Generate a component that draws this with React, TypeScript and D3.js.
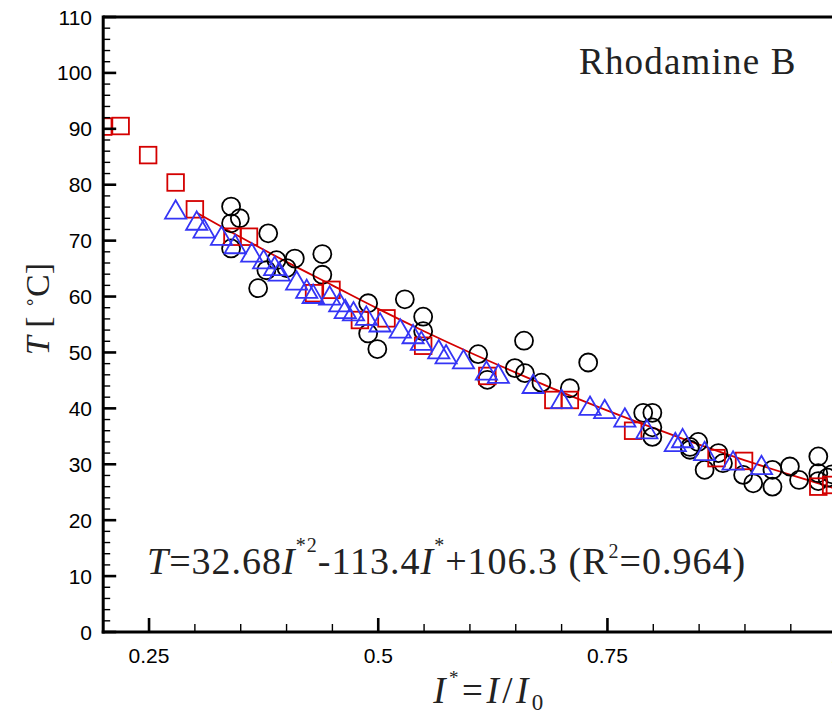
import React from "react";
import * as d3 from "d3";

// ---- data ----
const circlesI = [0.3395, 0.349, 0.3395, 0.3395, 0.38, 0.389, 0.409, 0.4, 0.378, 0.369, 0.439, 0.439, 0.489, 0.489, 0.499, 0.529, 0.549, 0.549, 0.609, 0.619, 0.659, 0.649, 0.66, 0.678, 0.729, 0.709, 0.789, 0.799, 0.799, 0.799, 0.84, 0.849, 0.84, 0.856, 0.871, 0.876, 0.898, 0.909, 0.93, 0.93, 0.949, 0.959, 0.98, 0.98, 0.98, 0.99, 0.995];
const circlesT = [76.1, 74.0, 73.1, 68.6, 71.3, 66.5, 66.8, 65.1, 64.7, 61.5, 67.6, 63.9, 58.8, 53.4, 50.6, 59.5, 56.4, 53.8, 49.7, 45.1, 52.1, 47.2, 46.3, 44.6, 48.2, 43.6, 39.2, 39.2, 36.6, 34.9, 33.1, 34.0, 32.6, 29.0, 32.0, 30.2, 28.1, 26.6, 26.0, 29.0, 29.6, 27.2, 31.4, 28.4, 27.0, 27.6, 28.2];

const squaresI = [0.2, 0.219, 0.249, 0.279, 0.3, 0.341, 0.359, 0.43, 0.449, 0.48, 0.509, 0.549, 0.619, 0.691, 0.709, 0.778, 0.869, 0.899, 0.98, 0.994];
const squaresT = [90.4, 90.5, 85.3, 80.4, 75.6, 70.7, 70.7, 60.6, 61.2, 55.8, 56.1, 51.2, 45.8, 41.5, 41.5, 36.0, 31.1, 30.6, 26.0, 26.3];

const trianglesI = [0.279, 0.302, 0.31, 0.329, 0.344, 0.362, 0.375, 0.387, 0.392, 0.411, 0.422, 0.429, 0.447, 0.458, 0.464, 0.473, 0.487, 0.502, 0.524, 0.538, 0.547, 0.566, 0.574, 0.593, 0.618, 0.631, 0.669, 0.7, 0.731, 0.747, 0.769, 0.793, 0.824, 0.832, 0.856, 0.887, 0.918];
const trianglesT = [75.4, 73.4, 72.0, 70.7, 69.2, 67.7, 66.5, 65.3, 64.3, 62.7, 61.2, 60.3, 60.0, 58.8, 57.6, 57.2, 56.4, 55.2, 54.1, 53.1, 51.9, 50.4, 49.5, 48.6, 46.6, 46.0, 44.2, 41.5, 40.3, 39.7, 38.2, 36.1, 33.8, 34.5, 32.2, 30.5, 29.7];

const fitI = [0.302, 0.35, 0.4, 0.45, 0.5, 0.55, 0.6, 0.65, 0.7, 0.75, 0.8, 0.85, 0.9, 0.95, 1.0, 1.05];
const fitT = [75.0, 70.6, 66.2, 62.0, 57.8, 53.8, 50.0, 46.4, 42.9, 39.6, 36.5, 33.5, 30.7, 28.1, 25.6, 23.2];

const xMajorTicks = [0.25, 0.5, 0.75, 1.0];
const xTickLabels = ["0.25", "0.5", "0.75", "1"];
const yMajorTicks = [0, 10, 20, 30, 40, 50, 60, 70, 80, 90, 100, 110];

const W = 832;
const H = 716;
const left = 103.2;
const top = 17;
const bottom = 632;
const pxPerUnit = 916.8;
const xMin = 0.2;
const xMax = 1.05;

export default function App() {
  const x = d3.scaleLinear().domain([xMin, xMax]).range([left, left + (xMax - xMin) * pxPerUnit]);
  const y = d3.scaleLinear().domain([0, 110]).range([bottom, top]);

  const xMinor = d3.range(0.2, 1.0501, 0.05).filter((v) => xMajorTicks.every((m) => Math.abs(m - v) > 1e-6));
  const yMinor = d3.range(0, 110.01, 2).filter((v) => v % 10 !== 0);

  const line = d3
    .line<number>()
    .x((_, i) => x(fitI[i]))
    .y((d) => y(d))
    .curve(d3.curveMonotoneX);

  const triPath = d3.symbol().type(d3.symbolTriangle).size(195)() as string;

  const serif = "'Liberation Serif', 'Times New Roman', serif";
  const sans = "'Liberation Sans', Arial, sans-serif";
  const red = "#d40000";
  const blue = "#3535f5";

  return (
    <svg width={W} height={H} style={{ position: "absolute", left: 0, top: 0, background: "#fff" }}>
      <defs>
        <clipPath id="plotClip">
          <rect x={left} y={top} width={W - left} height={bottom - top} />
        </clipPath>
      </defs>
      <rect x={0} y={0} width={W} height={H} fill="#fff" />

      <g clipPath="url(#plotClip)">
        <path d={line(fitT) as string} fill="none" stroke={red} strokeWidth={1.8} />
        {circlesI.map((v, i) => (
          <circle key={"c" + i} cx={x(v)} cy={y(circlesT[i])} r={9} fill="none" stroke="#000" strokeWidth={1.8} />
        ))}
        {squaresI.map((v, i) => (
          <rect key={"s" + i} x={x(v) - 8.3} y={y(squaresT[i]) - 8.3} width={16.6} height={16.6} fill="none" stroke={red} strokeWidth={1.8} />
        ))}
        {trianglesI.map((v, i) => (
          <path key={"t" + i} d={triPath} transform={`translate(${x(v)},${y(trianglesT[i]) + 2})`} fill="none" stroke={blue} strokeWidth={1.8} />
        ))}
      </g>

      {/* frame */}
      <line x1={left} x2={W} y1={top} y2={top} stroke="#000" strokeWidth={3} />
      <line x1={left} x2={left} y1={top - 1.5} y2={bottom + 1.5} stroke="#000" strokeWidth={3} />
      <line x1={left - 1.5} x2={W} y1={bottom} y2={bottom} stroke="#000" strokeWidth={3} />

      {/* y ticks */}
      {yMajorTicks.map((t) => (
        <g key={"ym" + t}>
          <line x1={left} x2={left + 13} y1={y(t)} y2={y(t)} stroke="#000" strokeWidth={2.6} />
          <text x={92} y={y(t)} dy="0.36em" textAnchor="end" fontFamily={sans} fontSize={21} fill="#000">
            {t}
          </text>
        </g>
      ))}
      {yMinor.map((t) => (
        <line key={"yn" + t} x1={left} x2={left + 7} y1={y(t)} y2={y(t)} stroke="#000" strokeWidth={1.4} />
      ))}

      {/* x ticks */}
      {xMajorTicks.map((t, i) => (
        <g key={"xm" + t}>
          <line x1={x(t)} x2={x(t)} y1={bottom} y2={bottom - 14} stroke="#000" strokeWidth={2.6} />
          <text x={x(t)} y={663} textAnchor="middle" fontFamily={sans} fontSize={21} fill="#000">
            {xTickLabels[i]}
          </text>
        </g>
      ))}
      {xMinor.map((t) => (
        <line key={"xn" + t} x1={x(t)} x2={x(t)} y1={bottom} y2={bottom - 8} stroke="#000" strokeWidth={1.4} />
      ))}

      {/* annotation */}
      <text x={579} y={74} fontFamily={serif} fontSize={37} letterSpacing={1.2} fill="#222">
        Rhodamine B
      </text>

      <text x={147} y={574} fontFamily={serif} fontSize={38} letterSpacing={1} fill="#222">
        <tspan fontStyle="italic">T</tspan>
        <tspan>=32.68</tspan>
        <tspan fontStyle="italic">I</tspan>
        <tspan fontSize={20} dy={-22}>*2</tspan>
        <tspan dy={22}>-113.4</tspan>
        <tspan fontStyle="italic">I</tspan>
        <tspan fontSize={20} dy={-22}>*</tspan>
        <tspan dy={22}>+106.3 (R</tspan>
        <tspan fontSize={20} dy={-16}>2</tspan>
        <tspan dy={16}>=0.964)</tspan>
      </text>

      {/* axis titles */}
      <text transform="translate(49,309) rotate(-90)" textAnchor="middle" fontFamily={serif} fontSize={34} fill="#222">
        <tspan fontStyle="italic">T</tspan>
        <tspan> [ </tspan>
        <tspan fontSize={18} dy={-14}>∘</tspan>
        <tspan dy={14}>C]</tspan>
      </text>

      <text x={490} y={703} textAnchor="middle" fontFamily={serif} fontSize={37} letterSpacing={3.5} fill="#222">
        <tspan fontStyle="italic">I</tspan>
        <tspan fontSize={19} dy={-19}>*</tspan>
        <tspan dy={19}>=</tspan>
        <tspan fontStyle="italic">I</tspan>
        <tspan>/</tspan>
        <tspan fontStyle="italic">I</tspan>
        <tspan fontSize={23} dy={7}>0</tspan>
      </text>
    </svg>
  );
}
